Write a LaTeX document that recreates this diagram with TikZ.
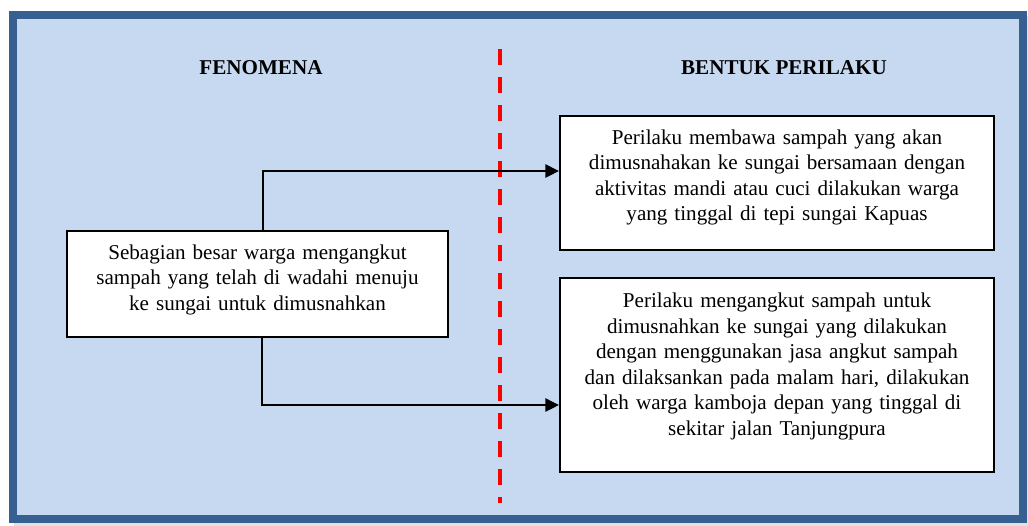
\documentclass[tikz,border=0pt]{standalone}
\usepackage{fontspec}
\setmainfont{Liberation Serif}
\usetikzlibrary{arrows.meta}
\definecolor{framecol}{RGB}{54,96,146}
\definecolor{panelcol}{RGB}{198,217,240}
\definecolor{shadowcol}{RGB}{225,225,225}
\begin{document}
\begin{tikzpicture}[x=0.025cm, y=-0.025cm,
    heading/.style={font=\fontsize{15}{18.2}\selectfont\bfseries},
    box/.style={draw, fill=white, line width=0.5mm, align=center, anchor=north,
      inner sep=0pt, text height=7mm, font=\fontsize{15}{18.2}\selectfont},
    arrow/.style={line width=0.55mm, -{Triangle[length=3.4mm,width=3.3mm]}}]
  \useasboundingbox (0,0) rectangle (1028,526);
  % frame and panel
  \fill[shadowcol] (14,16) rectangle (1032,528);
  \fill[framecol] (9,11) rectangle (1027,523);
  \fill[panelcol] (17,19) rectangle (1019,515);
  \draw[red, line width=1mm, dash pattern=on 4mm off 3mm] (500,49) -- (500,503);
  \node[heading] (fenomena) at (261,67.5) {FENOMENA};
  \node[heading] (bentuk) at (784,67.5) {BENTUK PERILAKU};
  \node[box, text width=95.25mm, text depth=19.5mm] (fen) at (257.5,230)
    {Sebagian besar warga mengangkut\\ sampah yang telah di wadahi menuju\\ ke sungai untuk dimusnahkan};
  \node[box, text width=108.5mm, text depth=26.5mm] (b1) at (777,115)
    {Perilaku membawa sampah yang akan\\ dimusnahakan ke sungai bersamaan dengan\\ aktivitas mandi atau cuci dilakukan warga\\ yang tinggal di tepi sungai Kapuas};
  \node[box, text width=108.5mm, text height=7.4mm, text depth=41.1mm] (b2) at (777,277)
    {Perilaku mengangkut sampah untuk\\ dimusnahkan ke sungai yang dilakukan\\ dengan menggunakan jasa angkut sampah\\ dan dilaksankan pada malam hari, dilakukan\\ oleh warga kamboja depan yang tinggal di\\ sekitar jalan Tanjungpura};
  \draw[arrow] ([xshift=1.4mm]fen.north) |- ([yshift=3mm]b1.west);
  \draw[arrow] ([xshift=1.1mm]fen.south) |- ([yshift=-7.5mm]b2.west);
\end{tikzpicture}
\end{document}
